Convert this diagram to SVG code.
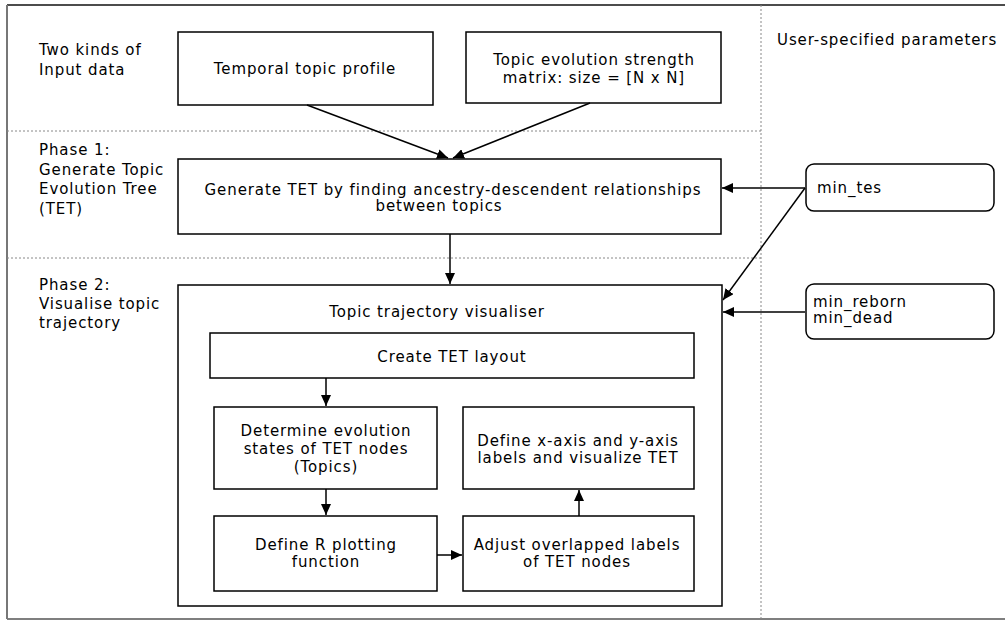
<svg xmlns="http://www.w3.org/2000/svg" width="1005" height="620" viewBox="0 0 1005 620">
<style>
text{font-family:"DejaVu Sans",sans-serif;font-size:15px;letter-spacing:0.9px;fill:#000}
.c{text-anchor:middle}
.box{fill:#fff;stroke:#000;stroke-width:1.5}
.dash{stroke:#888;stroke-width:1;stroke-dasharray:2,2;fill:none}
.con{stroke:#000;stroke-width:1.5;fill:none;marker-end:url(#ah)}
</style>
<defs>
<marker id="ah" markerUnits="userSpaceOnUse" markerWidth="12" markerHeight="10" refX="11" refY="5" orient="auto">
<path d="M0,0 L11,5 L0,10 z" fill="#000"/>
</marker>
</defs>
<rect x="0" y="0" width="1005" height="620" fill="#fff"/>
<g id="frame">
<line x1="7" y1="5" x2="1005" y2="5" stroke="#111" stroke-width="1.5"/>
<line x1="7" y1="619" x2="1005" y2="619" stroke="#555" stroke-width="1.5"/>
<line x1="7" y1="5" x2="7" y2="619" stroke="#777" stroke-width="2"/>
<line class="dash" x1="7" y1="131" x2="761" y2="131"/>
<line class="dash" x1="7" y1="258" x2="761" y2="258"/>
<line class="dash" x1="761" y1="5" x2="761" y2="619"/>
</g>
<g id="labels">
<text x="39" y="55">Two kinds of</text>
<text x="39" y="75">Input data</text>
<text x="39" y="155">Phase 1:</text>
<text x="39" y="174.5">Generate Topic</text>
<text x="39" y="194">Evolution Tree</text>
<text x="39" y="213.5">(TET)</text>
<text x="39" y="290">Phase 2:</text>
<text x="39" y="309">Visualise topic</text>
<text x="39" y="328">trajectory</text>
<text x="777" y="45">User-specified parameters</text>
</g>
<g id="n_temporal">
<rect class="box" x="178" y="32" width="255" height="73"/>
<text class="c" x="305" y="74">Temporal topic profile</text>
</g>
<g id="n_matrix">
<rect class="box" x="466" y="32" width="255" height="71"/>
<text class="c" x="594" y="65">Topic evolution strength</text>
<text class="c" x="594" y="83">matrix: size = [N x N]</text>
</g>
<g id="n_generate">
<rect class="box" x="178" y="159" width="543" height="75"/>
<text class="c" x="453" y="195">Generate TET by finding ancestry-descendent relationships</text>
<text class="c" x="439" y="211">between topics</text>
</g>
<g id="n_visualiser">
<rect class="box" x="178" y="285" width="544" height="321"/>
<text class="c" x="437" y="317">Topic trajectory visualiser</text>
</g>
<g id="n_layout">
<rect class="box" x="210" y="333" width="484" height="45"/>
<text class="c" x="452" y="362">Create TET layout</text>
</g>
<g id="n_determine">
<rect class="box" x="214" y="407" width="223" height="82"/>
<text class="c" x="326" y="436">Determine evolution</text>
<text class="c" x="326" y="454">states of TET nodes</text>
<text class="c" x="326" y="472">(Topics)</text>
</g>
<g id="n_axis">
<rect class="box" x="463" y="407" width="231" height="82"/>
<text class="c" x="578" y="446">Define x-axis and y-axis</text>
<text class="c" x="578" y="463">labels and visualize TET</text>
</g>
<g id="n_plotting">
<rect class="box" x="214" y="516" width="223" height="75"/>
<text class="c" x="326" y="550">Define R plotting</text>
<text class="c" x="326" y="567">function</text>
</g>
<g id="n_adjust">
<rect class="box" x="463" y="516" width="231" height="75"/>
<text class="c" x="577" y="550">Adjust overlapped labels</text>
<text class="c" x="577" y="567">of TET nodes</text>
</g>
<g id="n_min_tes">
<rect class="box" x="806" y="164" width="188" height="47" rx="8"/>
<text x="817" y="193">min_tes</text>
</g>
<g id="n_min_reborn">
<rect class="box" x="806" y="284" width="188" height="55" rx="8"/>
<text x="813" y="307">min_reborn</text>
<text x="813" y="323">min_dead</text>
</g>
<g id="connectors">
<line class="con" x1="307" y1="105" x2="448" y2="158"/>
<line class="con" x1="590" y1="103" x2="453" y2="158"/>
<line class="con" x1="450" y1="234" x2="450" y2="284"/>
<line class="con" x1="805" y1="188" x2="722" y2="188"/>
<line class="con" x1="805" y1="188" x2="723" y2="300"/>
<line class="con" x1="805" y1="312" x2="723" y2="312"/>
<line class="con" x1="326" y1="378" x2="326" y2="406"/>
<line class="con" x1="326" y1="489" x2="326" y2="515"/>
<line class="con" x1="437" y1="555" x2="462" y2="555"/>
<line class="con" x1="579" y1="516" x2="579" y2="490"/>
</g>
</svg>
